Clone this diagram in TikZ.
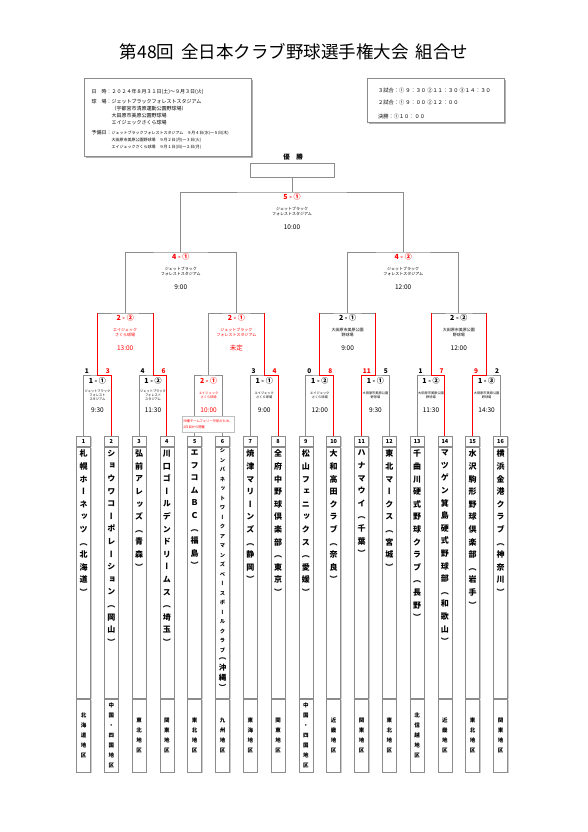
\documentclass[tikz,border=0pt]{standalone}
\usepackage{fontspec}
\setmainfont{Noto Sans CJK JP}
\newfontfamily\tatefont[RawFeature=+vert]{Noto Sans CJK JP}
\usetikzlibrary{positioning,shadows}
\definecolor{LineGray}{HTML}{8C8C8C}
\definecolor{WinRed}{HTML}{FF0000}

% one character per line (vertical names)
\def\tate#1{\expandafter\tateA#1\relax}
\def\tateA#1{#1\tateB}
\def\tateB#1{\ifx\relax#1\else\\#1\expandafter\tateB\fi}

\tikzset{
  line/.style={draw=LineGray,line width=.9pt},
  win/.style={draw=WinRed,line width=1pt},
  ttl/.style={font=\fontsize{7}{8}\selectfont\bfseries,inner sep=0pt},
  ven/.style={font=\fontsize{3.2}{4}\selectfont,align=center,inner sep=0pt},
  venbig/.style={font=\fontsize{4}{5}\selectfont,align=center,inner sep=0pt},
  tm/.style={font=\fontsize{6.5}{7}\selectfont,inner sep=0pt},
  score/.style={font=\fontsize{6.5}{7}\selectfont\bfseries,inner sep=1.2pt},
  cell/.style={draw=LineGray,line width=.8pt,fill=white,minimum width=14,inner sep=0pt,anchor=north,
    drop shadow={shadow xshift=1pt,shadow yshift=-1pt,fill=gray!40,opacity=1}},
  tname/.style={font=\tatefont\bfseries\fontsize{8}{12.6}\selectfont,align=center,inner sep=0pt,anchor=north},
  treg/.style={font=\tatefont\bfseries\fontsize{5.5}{10}\selectfont,align=center,inner sep=0pt},
  infobox/.style={draw=LineGray,line width=.9pt,fill=white,inner sep=0pt,anchor=north west,
    drop shadow={shadow xshift=1.5pt,shadow yshift=-1.5pt,fill=gray!60,opacity=1}},
}

\begin{document}
\begin{tikzpicture}[x=1pt,y=-1pt]
\useasboundingbox (0,0) rectangle (587,832);
\fill[white] (0,0) rectangle (587,832);

\node[font=\fontsize{17.5}{20}\selectfont] (title) at (294,52) {第48回\ \,全日本クラブ野球選手権大会\ \,組合せ};

% info boxes
\node[infobox,minimum width=167,minimum height=78] (info) at (84,78) {};
\node[anchor=north west,inner sep=0pt,font=\fontsize{5}{7}\selectfont] (infot) at (91.5,88) {%
  \begin{tabular}{@{}l@{}l@{}}
  日　時：&２０２４年８月３１日(土)～９月３日(火)\\[3pt]
  球　場：&ジェットブラックフォレストスタジアム\\
  &（宇都宮市清原運動公園野球場）\\
  &大田原市美原公園野球場\\
  &エイジェックさくら球場\\[3pt]
  予備日：&{\fontsize{4}{7}\selectfont ジェットブラックフォレストスタジアム　９月４日(水)～５日(木)}\\
  &{\fontsize{4}{7}\selectfont 大田原市美原公園野球場　９月２日(月)～３日(火)}\\
  &{\fontsize{4}{7}\selectfont エイジェックさくら球場　９月１日(日)～２日(月)}
  \end{tabular}};
\node[infobox,minimum width=137,minimum height=44] (sched) at (367,78) {};
\node[anchor=north west,inner sep=0pt,align=left,font=\fontsize{5.2}{12}\selectfont] (schedt) at (378,88)
  {３試合：① ９：３０ ②１１：３０ ③１４：３０\\２試合：① ９：００ ②１２：００\\[2pt]決勝：①１０：００};

% champion
\node[font=\fontsize{6.5}{7}\selectfont\bfseries] (champl) at (293,157) {優　勝};
\node[draw=LineGray,line width=.9pt,minimum width=84,minimum height=14,inner sep=0pt] (champ) at (292,170) {};

% bracket tops
\coordinate (f) at (292,192);
\coordinate (s1) at (180.8,252); \coordinate (s2) at (403.2,252);
\coordinate (q1) at (125.2,313); \coordinate (q2) at (236.4,313);
\coordinate (q3) at (347.6,313); \coordinate (q4) at (458.8,313);
\foreach \m/\x in {A/97.4,B/153,C/208.6,D/264.2,E/319.8,F/375.4,G/431,H/486.6}
  \coordinate (m\m) at (\x,375);

% teams
\foreach \i/\nm/\rg in {1/札幌ホーネッツ（北海道）/北海道地区,2/ショウワコーポレーション（岡山）/中国・四国地区,
  3/弘前アレッズ（青森）/東北地区,4/川口ゴールデンドリームス（埼玉）/関東地区,5/エフコムＢＣ（福島）/東北地区,
  6/シンバネットワークアマンズベースボールクラブ/九州地区,7/焼津マリーンズ（静岡）/東海地区,
  8/全府中野球倶楽部（東京）/関東地区,9/松山フェニックス（愛媛）/中国・四国地区,10/大和高田クラブ（奈良）/近畿地区,
  11/ハナマウイ（千葉）/関東地区,12/東北マークス（宮城）/東北地区,13/千曲川硬式野球クラブ（長野）/北信越地区,
  14/マツゲン箕島硬式野球部（和歌山）/近畿地区,15/水沢駒形野球倶楽部（岩手）/東北地区,16/横浜金港クラブ（神奈川）/関東地区}{
  \node[cell,minimum height=10,font=\fontsize{5.5}{6}\selectfont\bfseries] (n\i) at ({83.5+27.8*(\i-1)},436) {\i};
  \node[cell,minimum height=251] (c\i) at (n\i.south) {};
  \node[cell,minimum height=73] (r\i) at (c\i.south) {};
  \node[treg] (rg\i) at (r\i) {\tate\rg};
  \ifnum\i=6\relax\else\node[tname] (nm\i) at ([yshift=-3]c\i.north) {\tate\nm};\fi
}
\node[tname,font=\tatefont\bfseries\fontsize{5.3}{9.5}\selectfont] (nm6) at ([yshift=-1.3]c6.north)
  {\tate{シンバネットワークアマンズベースボールクラブ}};
\node[tname,font=\tatefont\bfseries\fontsize{7.5}{10.3}\selectfont] (nm6b) at ([yshift=-5.5]nm6.south) {\tate{（沖縄）}};

% connectors
\foreach \a/\m/\b in {1/A/2,3/B/4,5/C/6,7/D/8,9/E/10,11/F/12,13/G/14,15/H/16}
  \draw[line] (n\a.north) |- (m\m) -| (n\b.north);
\foreach \a/\q/\b in {A/1/B,C/2/D,E/3/F,G/4/H}
  \draw[line] (m\a) |- (q\q) -| (m\b);
\draw[line] (q1) |- (s1) -| (q2);
\draw[line] (q3) |- (s2) -| (q4);
\draw[line] (s1) |- (f) -| (s2);
\draw[line] (champ) -- (f);
\foreach \t/\m/\q in {2/A/1,4/B/1,8/D/2,10/E/3,11/F/3,14/G/4,15/H/4}
  \draw[win] (n\t.north) |- (m\m) -- (m\m |- q\q);

% scores
\foreach \a/\b/\m/\l/\r/\lc/\rc in {1/2/A/1/3/black/WinRed,3/4/B/4/6/black/WinRed,7/8/D/3/4/black/WinRed,
  9/10/E/0/8/black/WinRed,11/12/F/11/5/WinRed/black,13/14/G/1/7/black/WinRed,15/16/H/9/2/WinRed/black}{
  \node[score,text=\lc,anchor=south west] (sl\m) at (n\a.north |- m\m) {\l};
  \node[score,text=\rc,anchor=south east] (sr\m) at (n\b.north |- m\m) {\r};
}

% first round
\foreach \m/\lab/\ven/\tm/\col in {A/1 - ①/{ジェットブラック\\フォレスト\\スタジアム}/9:30/black,
  B/1 - ②/{ジェットブラック\\フォレスト\\スタジアム}/11:30/black,C/2 - ①/{エイジェック\\さくら球場}/10:00/WinRed,
  D/1 - ①/{エイジェック\\さくら球場}/9:00/black,E/1 - ②/{エイジェック\\さくら球場}/12:00/black,
  F/1 - ①/{大田原市美原公園\\野球場}/9:30/black,G/1 - ②/{大田原市美原公園\\野球場}/11:30/black,
  H/1 - ③/{大田原市美原公園\\野球場}/14:30/black}{
  \node[ttl,text=\col] (l\m) at ([yshift=-6]m\m) {\lab};
  \node[ven,text=\col] (v\m) at ([yshift=-20]m\m) {\ven};
  \node[tm,text=\col] (h\m) at ([yshift=-35]m\m) {\tm};
}

% later rounds
\foreach \m/\lab/\lc/\ven/\vc/\tm in {q1/2 - ②/WinRed/{エイジェック\\さくら球場}/WinRed/13:00,
  q2/2 - ①/WinRed/{ジェットブラック\\フォレストスタジアム}/WinRed/未定,
  q3/2 - ①/black/{大田原市美原公園\\野球場}/black/9:00,q4/2 - ②/black/{大田原市美原公園\\野球場}/black/12:00,
  s1/4 - ①/WinRed/{ジェットブラック\\フォレストスタジアム}/black/9:00,
  s2/4 - ②/WinRed/{ジェットブラック\\フォレストスタジアム}/black/12:00,
  f/5 - ①/WinRed/{ジェットブラック\\フォレストスタジアム}/black/10:00}{
  \node[ttl,text=\lc] (l\m) at ([yshift=-5]\m) {\lab};
  \node[venbig,text=\vc] (v\m) at ([yshift=-19.5]\m) {\ven};
  \node[tm,text=\vc] (h\m) at ([yshift=-35]\m) {\tm};
}

\node[draw=gray!50,line width=.8pt,fill=white,text=WinRed,font=\fontsize{3.3}{5.5}\selectfont,align=left,
  minimum width=52,minimum height=16,inner sep=1pt] (note) at (208,424) {沖縄チームフェリー欠航のため、\\2日目から開催};
\end{tikzpicture}
\end{document}
